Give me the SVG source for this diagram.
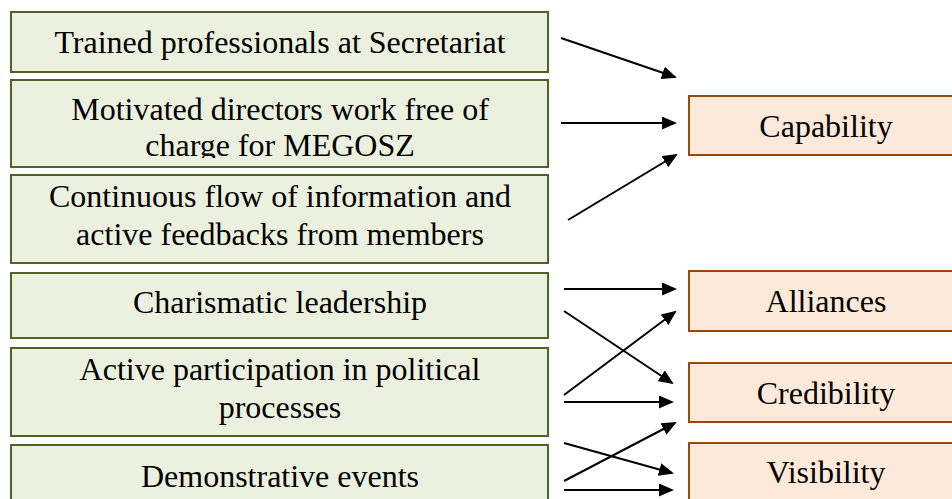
<svg xmlns="http://www.w3.org/2000/svg" width="952" height="499" viewBox="0 0 952 499">
  <style>
    .factor rect { fill: #EBF1DE; stroke: #4F6228; stroke-width: 2; }
    .outcome rect { fill: #FDE9D9; stroke: #984807; stroke-width: 2; }
    text { font-family: "Liberation Serif", "Times New Roman", serif; font-size: 32px; fill: #000; text-anchor: middle; }
    .conn line { stroke: #000; stroke-width: 2; marker-end: url(#head); }
  </style>
  <defs>
    <marker id="head" markerUnits="userSpaceOnUse" markerWidth="15" markerHeight="13" refX="13" refY="6.5" orient="auto">
      <path d="M0,0 L15,6.5 L0,13 z" fill="#000"/>
    </marker>
    <clipPath id="clip-directors">
      <rect x="10" y="80" width="540" height="78"/>
    </clipPath>
  </defs>
  <rect width="952" height="499" fill="#fff"/>

  <!-- left column: enabling factors -->
  <g id="trained-professionals" class="factor">
    <rect x="11" y="12" width="537" height="60"/>
    <text x="280" y="53">Trained professionals at Secretariat</text>
  </g>
  <g id="motivated-directors" class="factor">
    <rect x="11" y="80" width="537" height="87"/>
    <g clip-path="url(#clip-directors)">
      <text x="280" y="120">Motivated directors work free of</text>
      <text x="280" y="156">charge for MEGOSZ</text>
    </g>
  </g>
  <g id="information-flow" class="factor">
    <rect x="11" y="175" width="537" height="88"/>
    <text x="280" y="207">Continuous flow of information and</text>
    <text x="280" y="245">active feedbacks from members</text>
  </g>
  <g id="charismatic-leadership" class="factor">
    <rect x="11" y="273" width="537" height="65"/>
    <text x="280" y="313">Charismatic leadership</text>
  </g>
  <g id="political-participation" class="factor">
    <rect x="11" y="348" width="537" height="88"/>
    <text x="280" y="380">Active participation in political</text>
    <text x="280" y="418">processes</text>
  </g>
  <g id="demonstrative-events" class="factor">
    <rect x="11" y="445" width="537" height="70"/>
    <text x="280" y="487">Demonstrative events</text>
  </g>

  <!-- right column: outcomes -->
  <g id="capability" class="outcome">
    <rect x="689" y="96" width="280" height="59"/>
    <text x="826" y="137">Capability</text>
  </g>
  <g id="alliances" class="outcome">
    <rect x="689" y="271" width="280" height="60"/>
    <text x="826" y="312">Alliances</text>
  </g>
  <g id="credibility" class="outcome">
    <rect x="689" y="363" width="280" height="59"/>
    <text x="826" y="404">Credibility</text>
  </g>
  <g id="visibility" class="outcome">
    <rect x="689" y="443" width="280" height="70"/>
    <text x="826" y="483">Visibility</text>
  </g>

  <!-- connectors -->
  <g id="connectors" class="conn">
    <line x1="561" y1="38" x2="675" y2="77"/>
    <line x1="561" y1="123" x2="675" y2="123"/>
    <line x1="568" y1="220" x2="676" y2="155"/>
    <line x1="564" y1="289" x2="675" y2="289"/>
    <line x1="564" y1="311" x2="672" y2="383"/>
    <line x1="564" y1="395" x2="675" y2="312"/>
    <line x1="564" y1="402" x2="672" y2="402"/>
    <line x1="564" y1="443" x2="672" y2="473"/>
    <line x1="564" y1="481" x2="675" y2="423"/>
    <line x1="564" y1="490" x2="672" y2="490"/>
  </g>
</svg>
